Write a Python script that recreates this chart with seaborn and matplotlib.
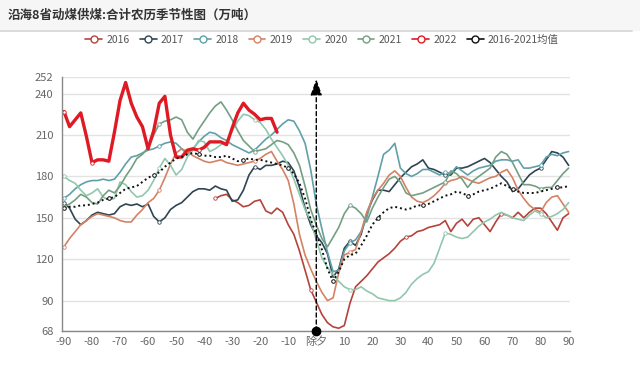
import numpy as np
import pandas as pd
import matplotlib
matplotlib.use('Agg')
import matplotlib.pyplot as plt
import seaborn as sns
from matplotlib.lines import Line2D
from matplotlib.patches import Rectangle

sns.set_style("white")
plt.rcParams['font.family'] = ['Noto Sans CJK SC', 'DejaVu Sans']

''' DATA (day offset vs. Chinese New Year's Eve, step 2 days)
'''
days = np.arange(-90, 91, 2)

y2016 = [np.nan]*27 + [164, 166, 167, 163, 161, 158, 159, 162, 163, 155, 153, 157, 154, 145, 138, 126, 112, 98,
                       89, 80, 74, 71, 70, 72, 88, 100, 104, 108, 113, 118, 121, 124, 128, 133, 136, 137, 140, 141,
                       143, 144, 145, 148, 140, 146, 149, 144, 149, 150, 145, 140, 147, 153, 152, 150, 154, 150, 154,
                       157, 157, 153, 147, 141, 150, 153]
y2017 = [161, 157, 149, 145, 148, 152, 154, 153, 152, 153, 158, 160, 159, 160, 158, 160, 151, 147, 150, 156, 159,
         161, 165, 169, 171, 171, 170, 173, 171, 170, 162, 163, 170, 181, 187, 185, 188, 188, 189, 191, 190, 184,
         172, 157, 145, 137, 132, 124, 107, 113, 128, 133, 130, 138, 153, 163, 170, 170, 169, 174, 179, 183, 187,
         189, 192, 186, 185, 183, 181, 181, 186, 186, 187, 189, 191, 193, 190, 185, 180, 176, 169, 171, 176, 181,
         184, 186, 192, 198, 197, 194, 188]
y2018 = [164, 167, 171, 174, 176, 177, 177, 178, 177, 178, 183, 189, 194, 195, 197, 199, 200, 202, 204, 205, 204,
         200, 196, 200, 205, 209, 212, 211, 208, 206, 203, 201, 199, 197, 199, 203, 207, 210, 214, 218, 221, 220,
         213, 204, 185, 160, 142, 125, 111, 112, 126, 132, 134, 140, 150, 165, 180, 196, 199, 204, 186, 182, 180,
         182, 185, 185, 183, 181, 183, 182, 187, 184, 181, 184, 186, 187, 188, 191, 192, 192, 191, 192, 186, 186,
         187, 188, 194, 196, 195, 197, 198]
y2019 = [129, 135, 140, 145, 148, 151, 153, 152, 151, 150, 148, 147, 147, 152, 156, 161, 164, 170, 179, 189, 197,
         200, 198, 195, 193, 191, 190, 191, 192, 190, 189, 188, 189, 190, 191, 193, 196, 198, 191, 185, 177, 160,
         138, 123, 113, 104, 96, 90, 92, 110, 123, 125, 127, 140, 154, 164, 170, 175, 181, 184, 180, 172, 165,
         162, 161, 163, 166, 170, 175, 177, 178, 180, 178, 176, 175, 177, 179, 180, 183, 185, 179, 170, 164, 159,
         156, 154, 161, 165, 166, 160, 154]
y2020 = [180, 177, 175, 170, 166, 168, 171, 165, 163, 164, 176, 174, 169, 165, 166, 170, 177, 186, 193, 188, 181,
         185, 194, 199, 206, 205, 198, 200, 203, 205, 213, 220, 225, 224, 221, 219, 214, 207, 201, 195, 188, 178,
         167, 156, 148, 134, 121, 114, 109, 104, 100, 98, 98, 100, 97, 95, 92, 91, 90, 90, 92, 96, 102, 106, 109,
         111, 117, 128, 139, 138, 136, 135, 136, 140, 144, 147, 149, 152, 154, 152, 150, 149, 148, 152, 155, 153,
         150, 151, 153, 156, 161]
y2021 = [158, 160, 163, 167, 165, 161, 160, 166, 170, 168, 173, 180, 186, 193, 196, 201, 210, 218, 220, 221, 223,
         221, 212, 207, 214, 220, 226, 231, 234, 228, 221, 213, 206, 202, 198, 199, 200, 203, 206, 205, 203, 197,
         188, 173, 156, 145, 135, 129, 136, 143, 153, 159, 157, 153, 147, 157, 165, 172, 178, 180, 176, 168, 166,
         167, 168, 170, 172, 174, 176, 184, 182, 178, 172, 177, 180, 183, 186, 194, 198, 196, 190, 182, 174, 174,
         173, 171, 172, 172, 177, 182, 186]
y2022 = [227, 216, 221, 226, 209, 190, 192, 192, 191, 212, 235, 248, 233, 223, 216, 200, 213, 233, 238, 210, 194,
         194, 199, 200, 199, 201, 205, 205, 205, 203, 215, 226, 233, 228, 225, 221, 222, 222, 212] + [np.nan]*52
y_avg = [157, 158, 158, 159, 159, 160, 161, 163, 164, 165, 168, 171, 172, 173, 176, 179, 181, 183, 187, 190, 193,
         194, 196, 197, 196, 195, 195, 194, 194, 195, 193, 191, 192, 193, 192, 192, 191, 190, 189, 188, 186, 182,
         175, 164, 149, 138, 127, 113, 104, 111, 120, 123, 124, 130, 137, 145, 150, 154, 157, 158, 157, 156, 157,
         159, 159, 160, 162, 164, 166, 167, 169, 168, 166, 167, 169, 170, 171, 173, 175, 173, 171, 169, 168, 168,
         168, 169, 170, 171, 172, 172, 173]

labels = ['2016', '2017', '2018', '2019', '2020', '2021', '2022', '2016-2021均值']
series = [y2016, y2017, y2018, y2019, y2020, y2021, y2022, y_avg]
colors = ['#b5433b', '#2f4554', '#61a0a8', '#d48265', '#91c7ae', '#749f83', '#e01a24', '#111111']

yticks = [68, 90, 120, 150, 180, 210, 240, 252]
xtick_vals = list(range(-90, 91, 10))
xtick_labels = [('除夕' if v == 0 else str(v)) for v in xtick_vals]
title = '沿海8省动煤供煤:合计农历季节性图（万吨）'

''' PLOT
'''
fig = plt.figure(figsize=(6.4, 3.78), dpi=100)
fig.patches.append(Rectangle((0, 1 - 30/378), 1, 30/378, transform=fig.transFigure,
                             color='#f6f6f6', zorder=0))
fig.add_artist(Line2D([0, 632/640], [1 - 31/378, 1 - 31/378], color='#d6d6d6', lw=1.2))
fig.text(8/640, 1 - 15/378, title, fontsize=9, fontweight='bold', color='#333333', va='center', ha='left')

ax = fig.add_axes([62/640, 47/378, 508/640, 254/378])

for lab, vals, c in zip(labels, series, colors):
    df = pd.DataFrame({'day': days, 'val': vals}).dropna()
    if lab == '2022':
        sns.lineplot(data=df, x='day', y='val', color=c, lw=2.4, ax=ax, marker='o', markevery=[0, 5, 24],
                     ms=2.5, mfc='white', mec=c, mew=0.6)
    elif lab.startswith('2016-'):
        sns.lineplot(data=df, x='day', y='val', color=c, lw=1.4, ls=(0, (1, 1.5)), ax=ax, marker='o',
                     markevery=8, ms=2.6, mfc='white', mec=c, mew=0.7)
    else:
        sns.lineplot(data=df, x='day', y='val', color=c, lw=1.2, ax=ax, marker='o', markevery=17,
                     ms=2.5, mfc='white', mec=c, mew=0.6)

# arrow at Chinese New Year's Eve
ax.annotate('', xy=(0, 250.5), xytext=(0, 68),
            arrowprops=dict(arrowstyle='-|>,head_length=0.7,head_width=0.25', color='black',
                            lw=1, ls=(0, (3, 2)), mutation_scale=14, shrinkA=0, shrinkB=0))
ax.plot([0], [68], 'o', color='black', ms=6, clip_on=False, zorder=10)

ax.set_xlim(-90.7, 90.5)
ax.set_ylim(68, 252)
ax.set_yticks(yticks)
ax.set_xticks(xtick_vals)
ax.set_xticklabels(xtick_labels)
ax.set_xticks(list(range(-85, 90, 10)), minor=True)
ax.tick_params(axis='x', which='major', length=0, labelsize=8, labelcolor='#666666', pad=4)
ax.tick_params(axis='x', which='minor', length=4, color='#888888')
ax.tick_params(axis='y', length=4, color='#888888', labelsize=8, labelcolor='#666666', pad=2)
ax.grid(axis='y', color='#e3e3e3', lw=1)
ax.set_xlabel('')
ax.set_ylabel('')
sns.despine(ax=ax)
for s in ['left', 'bottom']:
    ax.spines[s].set_color('#888888')
    ax.spines[s].set_linewidth(1)

handles = [Line2D([0], [0], color=c, lw=1.2, marker='o', ms=5, mfc='white', mec=c, mew=1)
           for c in colors]
fig.legend(handles, labels, loc='center', bbox_to_anchor=(322/640, 1 - 40/378), ncol=8, frameon=False,
           fontsize=7.5, handlelength=1.6, columnspacing=1.0, handletextpad=0.4, labelcolor='#555555')

plt.savefig('out.png', dpi=100)
